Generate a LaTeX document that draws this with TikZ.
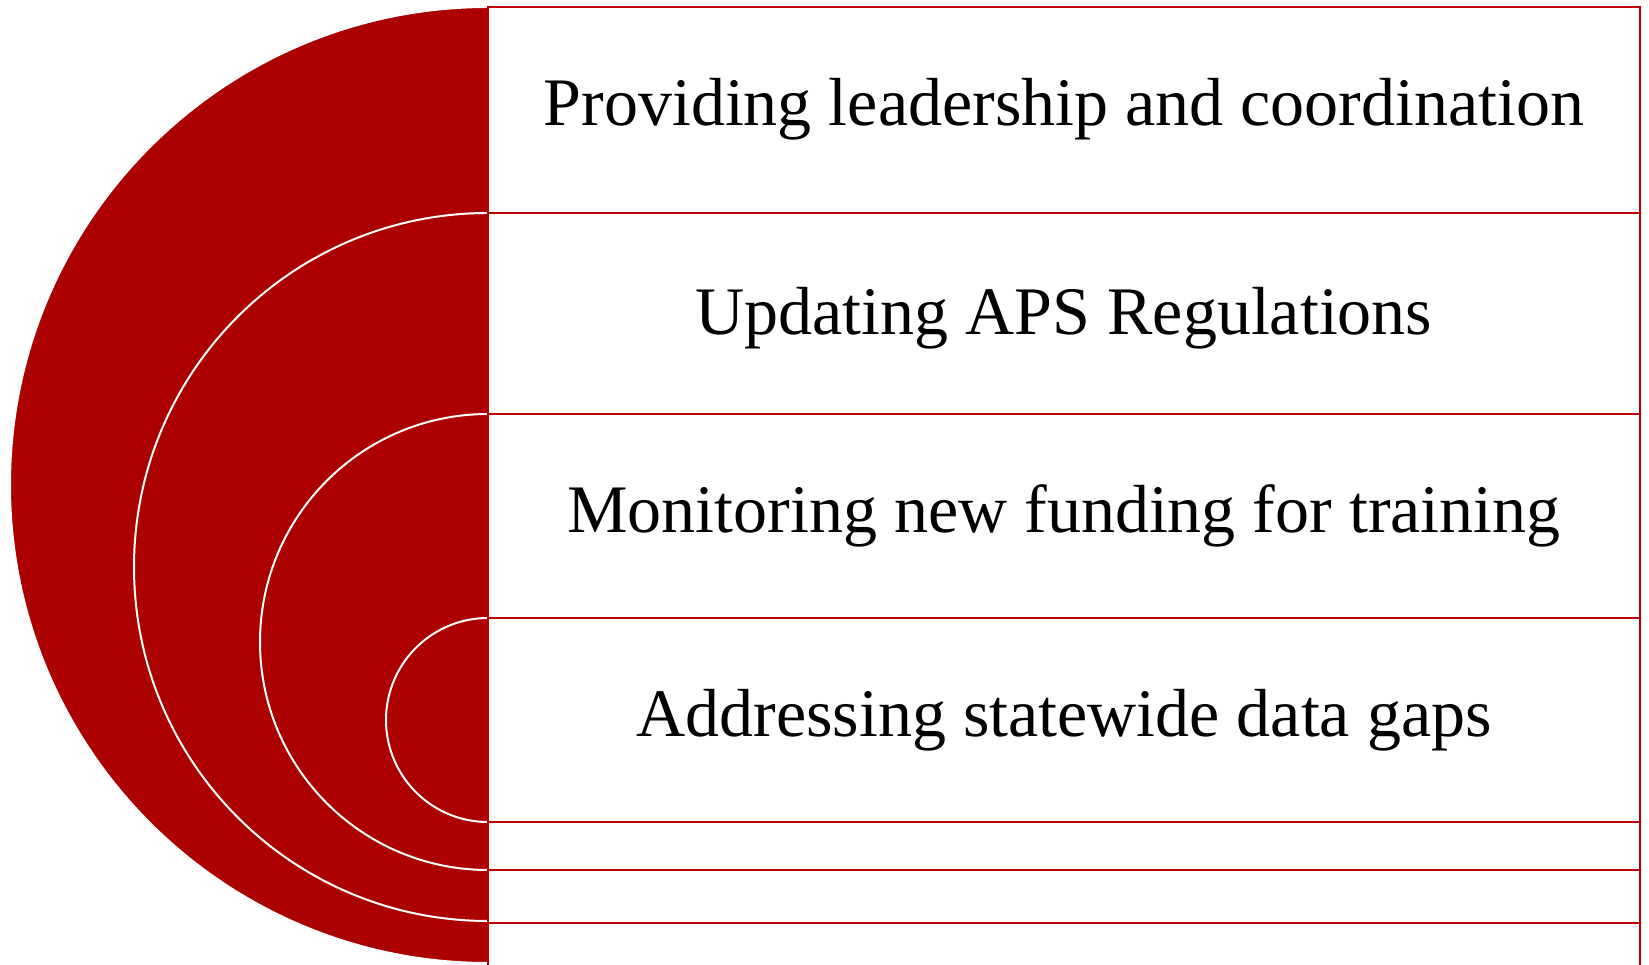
\documentclass[tikz,border=0pt]{standalone}
\usepackage{fontspec}
\setmainfont{Liberation Serif}
\definecolor{targetred}{HTML}{AC0000}
\definecolor{boxred}{HTML}{C00000}
\tikzset{
	halfdisc/.style={fill=targetred, draw=white, line width=1pt},
	levelbox/.style={fill=white, draw=boxred, line width=1pt},
	levellabel/.style={anchor=base, font=\fontsize{34}{40}\selectfont, inner sep=0pt}
}

\begin{document}
\begin{tikzpicture}[x=0.5pt, y=0.5pt]
			%%%%% START %%%%%
			
			\useasboundingbox (0, 0) rectangle (1649, 964);
			
			\draw[halfdisc] (488, 957) arc (90:270:478) -- cycle;
			\draw[levelbox] (488, -4) rectangle (1640, 957);
			
			\draw[halfdisc] (488, 751) arc (90:270:354) -- cycle;
			\draw[levelbox] (488, 41) rectangle (1640, 751);
			
			\draw[halfdisc] (488, 550) arc (90:270:228) -- cycle;
			\draw[levelbox] (488, 94) rectangle (1640, 550);
			
			\draw[halfdisc] (488, 346) arc (90:270:102) -- cycle;
			\draw[levelbox] (488, 142) rectangle (1640, 346);
			
			\node[levellabel] (lead) at (1064, 838) {Providing leadership and coordination};
			\node[levellabel] (regs) at (1064, 629) {Updating APS Regulations};
			\node[levellabel] (fund) at (1064, 431) {Monitoring new funding for training};
			\node[levellabel] (gaps) at (1064, 227) {Addressing statewide data gaps};
			
			%%%%% END %%%%%
\end{tikzpicture}
\end{document}
